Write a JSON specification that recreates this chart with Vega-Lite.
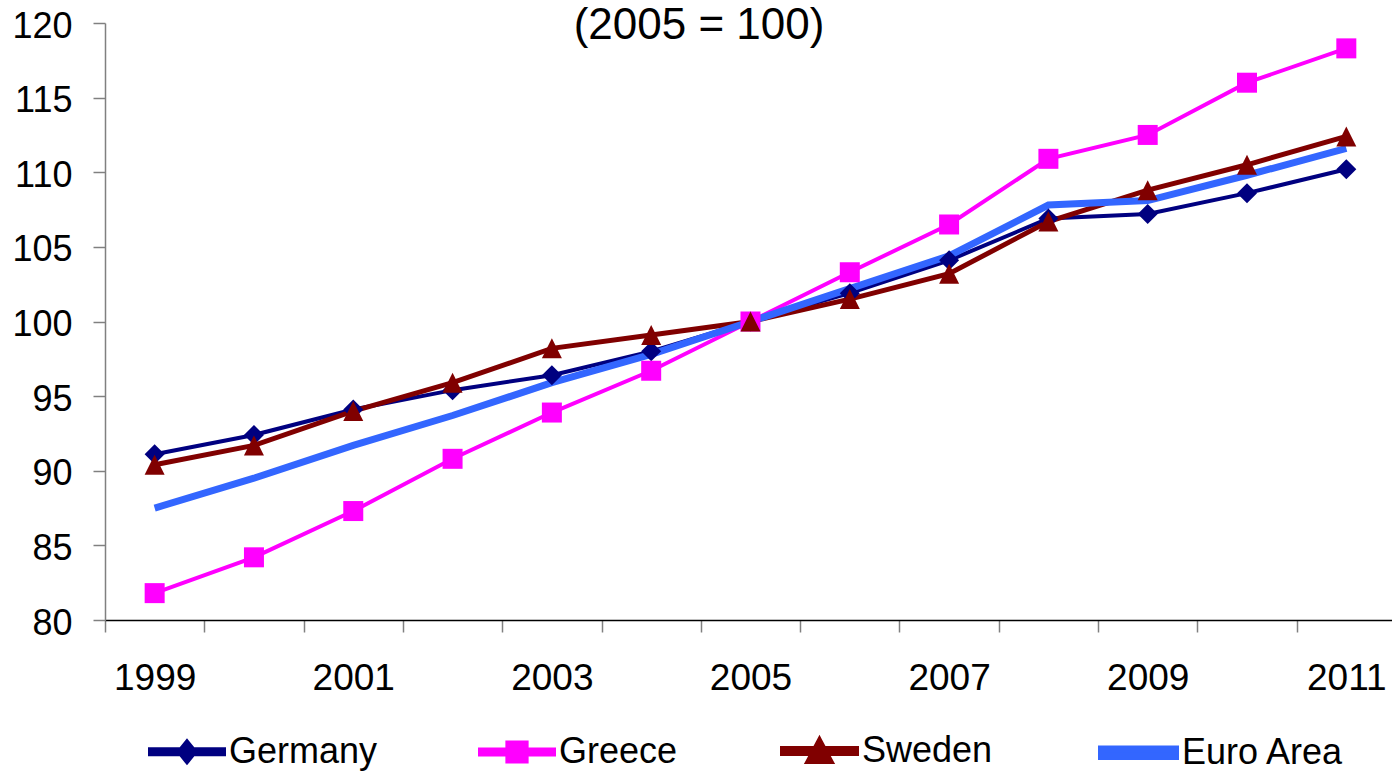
{
  "$schema": "https://vega.github.io/schema/vega-lite/v6.json",
  "width": 1287,
  "height": 597,
  "autosize": {"type": "none"},
  "padding": {"left": 105, "top": 23, "right": 0, "bottom": 158},
  "background": "white",
  "config": {"view": {"stroke": null}},
  "title": {
    "text": "(2005 = 100)",
    "font": "Liberation Sans",
    "fontSize": 44,
    "fontWeight": "normal",
    "color": "#000000",
    "anchor": "middle",
    "frame": "group",
    "baseline": "alphabetic",
    "dx": -49.5,
    "dy": 40,
    "offset": -35
  },
  "data": {
    "values": [
      {"year": 1999, "country": "Germany", "value": 91.1},
      {"year": 2000, "country": "Germany", "value": 92.4},
      {"year": 2001, "country": "Germany", "value": 94.1},
      {"year": 2002, "country": "Germany", "value": 95.4},
      {"year": 2003, "country": "Germany", "value": 96.4},
      {"year": 2004, "country": "Germany", "value": 98.0},
      {"year": 2005, "country": "Germany", "value": 100.0},
      {"year": 2006, "country": "Germany", "value": 101.9},
      {"year": 2007, "country": "Germany", "value": 104.1},
      {"year": 2008, "country": "Germany", "value": 106.9},
      {"year": 2009, "country": "Germany", "value": 107.2},
      {"year": 2010, "country": "Germany", "value": 108.6},
      {"year": 2011, "country": "Germany", "value": 110.2},
      {"year": 1999, "country": "Greece", "value": 81.8},
      {"year": 2000, "country": "Greece", "value": 84.2},
      {"year": 2001, "country": "Greece", "value": 87.3},
      {"year": 2002, "country": "Greece", "value": 90.8},
      {"year": 2003, "country": "Greece", "value": 93.9},
      {"year": 2004, "country": "Greece", "value": 96.7},
      {"year": 2005, "country": "Greece", "value": 100.0},
      {"year": 2006, "country": "Greece", "value": 103.3},
      {"year": 2007, "country": "Greece", "value": 106.5},
      {"year": 2008, "country": "Greece", "value": 110.9},
      {"year": 2009, "country": "Greece", "value": 112.5},
      {"year": 2010, "country": "Greece", "value": 116.0},
      {"year": 2011, "country": "Greece", "value": 118.3},
      {"year": 1999, "country": "Sweden", "value": 90.4},
      {"year": 2000, "country": "Sweden", "value": 91.7},
      {"year": 2001, "country": "Sweden", "value": 94.0},
      {"year": 2002, "country": "Sweden", "value": 95.9},
      {"year": 2003, "country": "Sweden", "value": 98.2},
      {"year": 2004, "country": "Sweden", "value": 99.1},
      {"year": 2005, "country": "Sweden", "value": 100.0},
      {"year": 2006, "country": "Sweden", "value": 101.5},
      {"year": 2007, "country": "Sweden", "value": 103.2},
      {"year": 2008, "country": "Sweden", "value": 106.7},
      {"year": 2009, "country": "Sweden", "value": 108.8},
      {"year": 2010, "country": "Sweden", "value": 110.5},
      {"year": 2011, "country": "Sweden", "value": 112.4},
      {"year": 1999, "country": "Euro Area", "value": 87.5},
      {"year": 2000, "country": "Euro Area", "value": 89.5},
      {"year": 2001, "country": "Euro Area", "value": 91.7},
      {"year": 2002, "country": "Euro Area", "value": 93.7},
      {"year": 2003, "country": "Euro Area", "value": 95.9},
      {"year": 2004, "country": "Euro Area", "value": 97.8},
      {"year": 2005, "country": "Euro Area", "value": 100.0},
      {"year": 2006, "country": "Euro Area", "value": 102.2},
      {"year": 2007, "country": "Euro Area", "value": 104.4},
      {"year": 2008, "country": "Euro Area", "value": 107.8},
      {"year": 2009, "country": "Euro Area", "value": 108.1},
      {"year": 2010, "country": "Euro Area", "value": 109.8},
      {"year": 2011, "country": "Euro Area", "value": 111.6}
    ]
  },
  "encoding": {
    "x": {
      "field": "year",
      "type": "quantitative",
      "scale": {"domain": [1998.5, 2011.46], "nice": false, "zero": false},
      "axis": {
        "title": null,
        "grid": false,
        "values": [1998.5, 1999.5, 2000.5, 2001.5, 2002.5, 2003.5, 2004.5, 2005.5, 2006.5, 2007.5, 2008.5, 2009.5, 2010.5],
        "labelExpr": "(datum.value - 1998.5) % 2 == 0 ? format(datum.value + 0.5, 'd') : ''",
        "labelOffset": 49.65,
        "labelOverlap": false,
        "labelFlush": false,
        "labelBound": false,
        "labelFont": "Liberation Sans",
        "labelFontSize": 37,
        "labelColor": "#000000",
        "labelPadding": 28,
        "tickSize": 12,
        "tickWidth": 1.5,
        "tickColor": "#808080",
        "domainColor": "#000000",
        "domainWidth": 1.5
      }
    },
    "y": {
      "field": "value",
      "type": "quantitative",
      "scale": {"domain": [80, 120], "nice": false, "zero": false},
      "axis": {
        "title": null,
        "grid": false,
        "values": [80, 85, 90, 95, 100, 105, 110, 115, 120],
        "labelFont": "Liberation Sans",
        "labelFontSize": 36,
        "labelColor": "#000000",
        "labelPadding": 21,
        "labelOffset": 3,
        "labelBound": false,
        "labelFlush": false,
        "labelOverlap": false,
        "tickSize": 12,
        "tickWidth": 1.5,
        "tickColor": "#808080",
        "domainColor": "#808080",
        "domainWidth": 1.5
      }
    },
    "color": {
      "field": "country",
      "type": "nominal",
      "scale": {
        "domain": ["Germany", "Greece", "Sweden", "Euro Area"],
        "range": ["#000080", "#FF00FF", "#800000", "#3366FF"]
      },
      "legend": {
        "title": null,
        "orient": "none",
        "direction": "horizontal",
        "legendX": 43,
        "legendY": 688,
        "labelFont": "Liberation Sans",
        "labelFontSize": 36,
        "labelColor": "#000000",
        "labelOffset": 3,
        "labelLimit": 0,
        "columnPadding": 94,
        "symbolSize": 5476,
        "symbolStrokeWidth": 0,
        "encode": {
          "symbols": {
            "update": {
              "shape": {"signal": "datum.value === 'Germany' ? 'M-1,-0.0676H1V0.0676H-1Z M0,-0.28L0.225,0L0,0.28L-0.225,0Z' : datum.value === 'Greece' ? 'M-1,-0.0676H1V0.0676H-1Z M-0.26,-0.26H0.26V0.26H-0.26Z' : datum.value === 'Sweden' ? 'M-1,-0.0676H1V0.0676H-1Z M0,-0.29L0.31,0.29L-0.31,0.29Z' : 'M-1,-0.104H1V0.104H-1Z'"},
              "size": {"value": 5476},
              "fill": {"scale": "color", "field": "value"},
              "fillOpacity": {"value": 1},
              "opacity": {"value": 1},
              "stroke": {"value": "transparent"},
              "strokeWidth": {"value": 0}
            }
          }
        }
      }
    }
  },
  "layer": [
    {
      "mark": {"type": "line", "strokeJoin": "miter"},
      "encoding": {
        "strokeWidth": {
          "field": "country",
          "type": "nominal",
          "scale": {"type": "ordinal", "domain": ["Germany", "Greece", "Sweden", "Euro Area"], "range": [4, 4, 5, 7]},
          "legend": null
        }
      }
    },
    {
      "transform": [{"filter": "datum.country !== 'Euro Area'"}],
      "mark": {"type": "point", "filled": true, "opacity": 1, "strokeWidth": 0},
      "encoding": {
        "shape": {
          "field": "country",
          "type": "nominal",
          "scale": {"domain": ["Germany", "Greece", "Sweden"], "range": ["diamond", "square", "M0,-1L1,1L-1,1Z"]},
          "legend": null
        },
        "size": {"value": 400}
      }
    }
  ]
}
